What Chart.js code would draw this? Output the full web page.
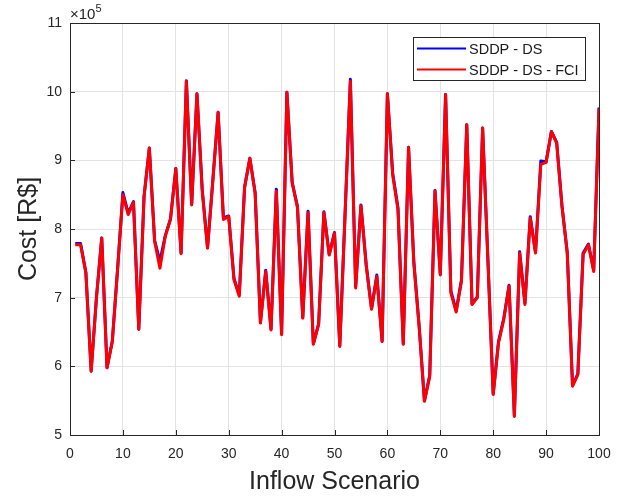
<!DOCTYPE html>
<html>
<head>
<meta charset="utf-8">
<script src="https://cdn.jsdelivr.net/npm/chart.js@4.4.0/dist/chart.umd.min.js"></script>
<style>
  html, body { margin: 0; padding: 0; background: #fff; }
  #chart { display: block; }
</style>
</head>
<body>
<canvas id="chart" width="633" height="499"></canvas>
<script>
// inflow scenarios (x axis)
const scenarios = [
  1, 2, 3, 4, 5, 6, 7, 8, 9, 10, 11, 12, 13, 14, 15, 16, 17, 18, 19, 20,
  21, 22, 23, 24, 25, 26, 27, 28, 29, 30, 31, 32, 33, 34, 35, 36, 37, 38, 39, 40,
  41, 42, 43, 44, 45, 46, 47, 48, 49, 50, 51, 52, 53, 54, 55, 56, 57, 58, 59, 60,
  61, 62, 63, 64, 65, 66, 67, 68, 69, 70, 71, 72, 73, 74, 75, 76, 77, 78, 79, 80,
  81, 82, 83, 84, 85, 86, 87, 88, 89, 90, 91, 92, 93, 94, 95, 96, 97, 98, 99, 100
];

// cost in units of 10^5 R$
const costDS = [
  7.79, 7.79, 7.37, 5.93, 7.00, 7.87, 5.98, 6.37, 7.42, 8.53, 8.23, 8.40, 6.54, 8.48, 9.18, 7.83, 7.53, 7.90, 8.15, 8.88,
  7.65, 10.16, 8.36, 9.97, 8.57, 7.73, 8.71, 9.70, 8.16, 8.19, 7.28, 7.04, 8.61, 9.03, 8.53, 6.64, 7.40, 6.54, 8.58, 6.47,
  9.99, 8.68, 8.33, 6.71, 8.26, 6.33, 6.62, 8.25, 7.63, 7.95, 6.30, 8.22, 10.18, 7.16, 8.35, 7.48, 6.84, 7.33, 6.37, 9.97,
  8.81, 8.31, 6.33, 9.19, 7.52, 6.59, 5.50, 5.87, 8.56, 7.34, 9.96, 7.10, 6.81, 7.26, 9.52, 6.91, 7.01, 9.47, 7.55, 5.60,
  6.36, 6.70, 7.18, 5.28, 7.67, 6.92, 8.18, 7.66, 8.99, 8.98, 9.42, 9.26, 8.34, 7.66, 5.72, 5.89, 7.65, 7.78, 7.40, 9.77
];

const costDSFCI = [
  7.77, 7.77, 7.36, 5.93, 7.00, 7.87, 5.98, 6.36, 7.42, 8.50, 8.21, 8.39, 6.54, 8.47, 9.18, 7.82, 7.43, 7.89, 8.14, 8.88,
  7.64, 10.15, 8.35, 9.97, 8.55, 7.72, 8.70, 9.70, 8.14, 8.18, 7.26, 7.02, 8.60, 9.03, 8.52, 6.63, 7.38, 6.53, 8.55, 6.46,
  9.99, 8.67, 8.31, 6.70, 8.24, 6.32, 6.61, 8.24, 7.62, 7.94, 6.29, 8.22, 10.15, 7.14, 8.34, 7.46, 6.83, 7.31, 6.36, 9.97,
  8.79, 8.28, 6.32, 9.19, 7.50, 6.58, 5.49, 5.85, 8.55, 7.33, 9.96, 7.07, 6.79, 7.24, 9.52, 6.90, 7.00, 9.47, 7.55, 5.59,
  6.34, 6.68, 7.17, 5.27, 7.65, 6.90, 8.16, 7.65, 8.94, 8.97, 9.42, 9.25, 8.33, 7.65, 5.71, 5.88, 7.63, 7.77, 7.38, 9.75
];

const xTicks = [0, 10, 20, 30, 40, 50, 60, 70, 80, 90, 100];
const yTicks = [5, 6, 7, 8, 9, 10, 11];
const seriesNames = ['SDDP - DS', 'SDDP - DS - FCI'];
const seriesColors = ['#0000ff', '#ff0000'];

const axisColor = '#262626';
const fontFamily = "'Liberation Sans', Arial, Helvetica, sans-serif";

const toPoints = (vals) => scenarios.map((s, i) => ({ x: s, y: vals[i] }));

// MATLAB-like box, inward ticks, exponent label and legend
const matlabDecor = {
  id: 'matlabDecor',
  afterDatasetsDraw(chart) {
    const { ctx, chartArea: a, scales } = chart;
    ctx.save();
    ctx.strokeStyle = axisColor;
    ctx.lineWidth = 1;

    ctx.beginPath();
    xTicks.forEach(t => {
      const px = Math.round(scales.x.getPixelForValue(t)) + 0.5;
      ctx.moveTo(px, a.bottom);
      ctx.lineTo(px, a.bottom - 5);
    });
    yTicks.forEach(t => {
      const py = Math.round(scales.y.getPixelForValue(t)) + 0.5;
      ctx.moveTo(a.left, py);
      ctx.lineTo(a.left + 5, py);
    });
    ctx.stroke();

    ctx.strokeRect(Math.round(a.left) + 0.5, Math.round(a.top) + 0.5,
      Math.round(a.right - a.left), Math.round(a.bottom - a.top));

    // x10^5 multiplier
    ctx.fillStyle = axisColor;
    ctx.textBaseline = 'alphabetic';
    ctx.textAlign = 'left';
    ctx.font = '15px ' + fontFamily;
    ctx.fillText('\u00d710', a.left, 18.5);
    const w = ctx.measureText('\u00d710').width;
    ctx.font = '11px ' + fontFamily;
    ctx.fillText('5', a.left + w, 11.5);

    // legend
    const lx = 413, ly = 37, lw = 172, lh = 43;
    ctx.fillStyle = '#ffffff';
    ctx.fillRect(lx, ly, lw, lh);
    ctx.strokeStyle = axisColor;
    ctx.strokeRect(lx + 0.5, ly + 0.5, lw, lh);
    ctx.font = '14.5px ' + fontFamily;
    ctx.textBaseline = 'middle';
    seriesNames.forEach((name, i) => {
      const y = ly + 11.5 + i * 21;
      ctx.strokeStyle = seriesColors[i];
      ctx.lineWidth = 2;
      ctx.beginPath();
      ctx.moveTo(lx + 4, y);
      ctx.lineTo(lx + 53, y);
      ctx.stroke();
      ctx.fillStyle = '#1a1a1a';
      ctx.fillText(name, lx + 56, y + 1);
    });
    ctx.restore();
  }
};

new Chart(document.getElementById('chart'), {
  type: 'line',
  data: {
    datasets: [
      {
        label: seriesNames[0],
        data: toPoints(costDS),
        borderColor: seriesColors[0],
        borderWidth: 3,
        order: 2
      },
      {
        label: seriesNames[1],
        data: toPoints(costDSFCI),
        borderColor: seriesColors[1],
        borderWidth: 3,
        order: 1
      }
    ]
  },
  options: {
    responsive: false,
    animation: false,
    layout: { padding: { top: 23, right: 34, left: 0, bottom: 0 } },
    elements: {
      point: { radius: 0 },
      line: { tension: 0, borderJoinStyle: 'round', fill: false }
    },
    plugins: {
      legend: { display: false },
      tooltip: { enabled: false }
    },
    scales: {
      x: {
        type: 'linear',
        min: 0,
        max: 100,
        afterBuildTicks: (s) => { s.ticks = xTicks.map(v => ({ value: v })); },
        afterFit: (s) => { s.height = 64; },
        ticks: {
          color: axisColor,
          font: { family: fontFamily, size: 14 },
          padding: 11,
          maxRotation: 0
        },
        grid: { color: '#e3e3e3', drawTicks: false },
        border: { color: axisColor },
        title: {
          display: true,
          text: 'Inflow Scenario',
          color: axisColor,
          font: { family: fontFamily, size: 25 },
          padding: { top: 0, bottom: 2 }
        }
      },
      y: {
        min: 5,
        max: 11,
        afterBuildTicks: (s) => { s.ticks = yTicks.map(v => ({ value: v })); },
        afterFit: (s) => { s.width = 70; },
        ticks: {
          color: axisColor,
          font: { family: fontFamily, size: 14 },
          padding: 8
        },
        grid: { color: '#e3e3e3', drawTicks: false },
        border: { color: axisColor },
        title: {
          display: true,
          text: 'Cost [R$]',
          color: axisColor,
          font: { family: fontFamily, size: 25 },
          padding: { top: 14, bottom: 0 }
        }
      }
    }
  },
  plugins: [matlabDecor]
});
</script>
</body>
</html>
